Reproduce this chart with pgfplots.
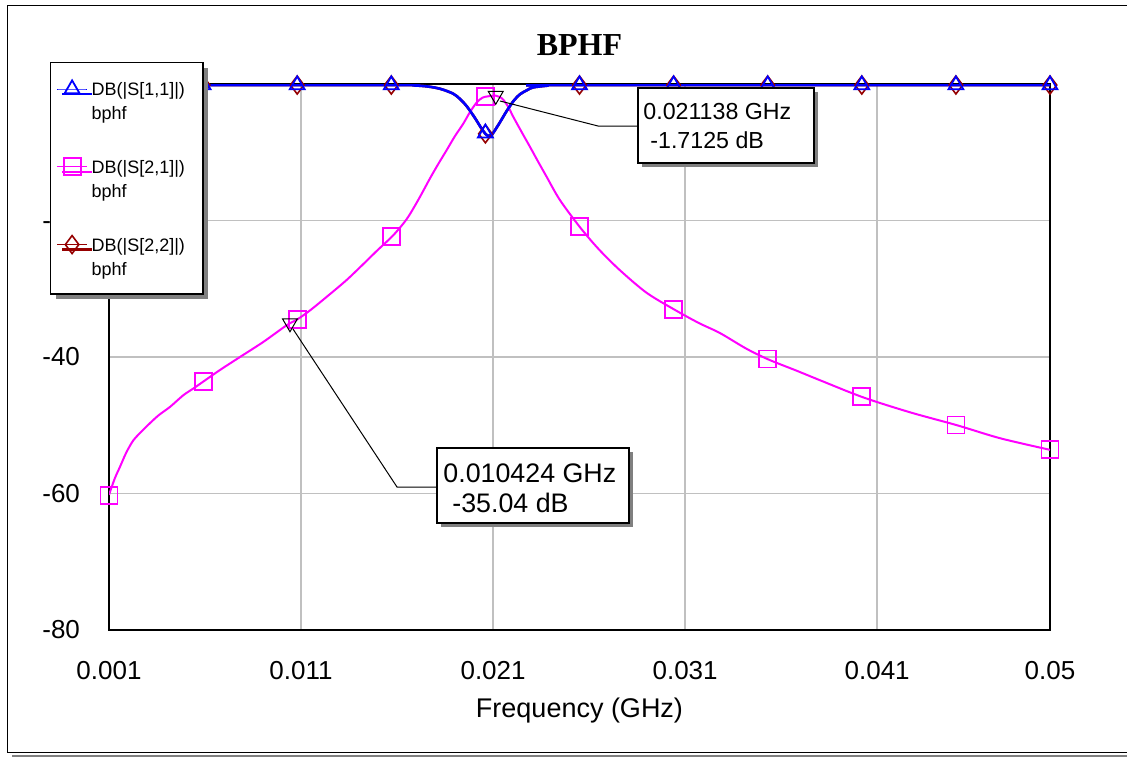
\documentclass[border=0pt]{standalone}
\usepackage{fontspec}
\setmainfont{Liberation Sans}
\newfontfamily\titlefont{Liberation Serif}
\usepackage{pgfplots}
\pgfplotsset{compat=1.18}
\usetikzlibrary{shadows}
\definecolor{sblue}{RGB}{0,0,255}
\definecolor{smag}{RGB}{255,0,255}
\definecolor{sbrown}{RGB}{150,0,0}
\definecolor{gridgray}{RGB}{192,192,192}
\definecolor{shadowgray}{RGB}{128,128,128}
\begin{document}
\begin{tikzpicture}
\useasboundingbox (0,0) rectangle (563.5pt,378.5pt);
% outer frame
\begin{scope}[x=0.5pt,y=-0.5pt,yshift=378.5pt]
  \fill[shadowgray] (12,754.5) rectangle (1127,757);
  \draw[black, line width=0.5pt] (7,6) -- (1127,6);
  \draw[black, line width=0.5pt] (7,6) -- (7,752.5) -- (1127,752.5);
\end{scope}
\begin{axis}[
  at={(54.5pt,63.5pt)}, anchor=south west,
  scale only axis, width=470.5pt, height=273pt,
  xmin=0.001, xmax=0.05, ymin=-80, ymax=0,
  scaled x ticks=false, scaled y ticks=false,
  xtick={0.001,0.011,0.021,0.031,0.041,0.05},
  xticklabels={0.001,0.011,0.021,0.031,0.041,0.05},
  ytick={-80,-60,-40,-20,0},
  yticklabels={-80,-60,-40,-20,0},
  grid=major, major grid style={gridgray, line width=0.75pt},
  major tick length=0pt,
  axis line style={black, line width=1pt},
  tick label style={font=\fontsize{13}{15}\selectfont},
  xticklabel style={yshift=-12pt},
  yticklabel style={xshift=-11pt},
  xlabel={Frequency (GHz)},
  xlabel style={font=\fontsize{13.5}{16}\selectfont, at={(axis description cs:0.5,0)}, anchor=center, yshift=-40.5pt},
  title={BPHF},
  title style={font=\titlefont\bfseries\fontsize{16}{19}\selectfont, at={(axis description cs:0.5,1)}, anchor=center, yshift=13.5pt},
  reverse legend,
  legend style={at={(axis description cs:-0.0627,1.0403)}, anchor=north west,
    draw=black, line width=0.6pt, fill=white,
    drop shadow={shadow xshift=2.5pt, shadow yshift=-2.5pt, fill=shadowgray, opacity=1},
    font=\fontsize{9}{12}\selectfont, inner xsep=3pt, inner ysep=6pt,
    row sep=13pt, cells={anchor=base west}},
  legend image code/.code={\draw[#1, line width=0.5pt, mark indices={2}] plot coordinates {(0pt,15.2pt) (7.5pt,15.2pt) (15pt,15.2pt)};},
]
% S22 (identical to S11, drawn underneath)
\addplot[sbrown, smooth, line width=1.3pt, mark=diamond, mark size=4.5pt, mark options={solid, line width=0.8pt}, mark indices={9999}] coordinates {
(0.00100,-0.15) (0.01600,-0.15) (0.01683,-0.2) (0.01756,-0.35) (0.01824,-0.7)
(0.01891,-1.4) (0.01928,-2.2) (0.01964,-3.3) (0.02006,-5.0) (0.02037,-6.4)
(0.02060,-7.3) (0.02075,-7.6) (0.02090,-7.5) (0.02100,-7.2) (0.02136,-5.6)
(0.02172,-3.9) (0.02209,-2.4) (0.02240,-1.5) (0.02277,-0.9) (0.02308,-0.5)
(0.02381,-0.25) (0.02448,-0.15) (0.05000,-0.15)};
\addlegendentry{\begin{tabular}[b]{@{}l@{\hspace{4pt}}}DB(|S[2,2]|)\\bphf\end{tabular}}
\addplot[forget plot, only marks, sbrown, mark=diamond, mark size=4.5pt, mark options={solid, line width=0.8pt}] coordinates {
(0.001,-0.15) (0.0059,-0.15) (0.0108,-0.15) (0.0157,-0.15) (0.0206,-7.3) (0.0255,-0.15)
(0.0304,-0.15) (0.0353,-0.15) (0.0402,-0.15) (0.0451,-0.15) (0.05,-0.15)};
% S21
\addplot[smag, smooth, line width=1pt, mark=square, mark size=4.25pt, mark options={solid, line width=0.9pt}, mark indices={9999}] coordinates {
(0.00100,-60.2) (0.00130,-57.8) (0.00157,-56.1) (0.00190,-54.0) (0.00227,-52.2)
(0.00270,-50.9) (0.00313,-49.7) (0.00360,-48.5) (0.00418,-47.3) (0.00487,-45.6)
(0.00540,-44.6) (0.00591,-43.6) (0.00678,-41.9) (0.00782,-40.0) (0.00903,-37.8)
(0.01025,-35.35) (0.01080,-34.5) (0.01150,-33.1) (0.01250,-30.8) (0.01338,-28.7)
(0.01420,-26.5) (0.01500,-24.3) (0.01579,-22.2) (0.01650,-19.8) (0.01710,-17.0)
(0.01772,-13.8) (0.01815,-11.7) (0.01858,-9.7) (0.01900,-7.7) (0.01945,-5.8)
(0.01980,-4.1) (0.02015,-2.7) (0.02045,-2.0) (0.02075,-1.8) (0.02114,-1.71)
(0.02135,-1.9) (0.02153,-2.3) (0.02180,-3.4) (0.02205,-4.8) (0.02250,-7.1)
(0.02292,-9.2) (0.02335,-11.4) (0.02379,-13.6) (0.02448,-17.0) (0.02553,-21.0)
(0.02650,-24.2) (0.02761,-27.3) (0.02900,-30.6) (0.03047,-33.1) (0.03170,-35.0)
(0.03282,-36.5) (0.03420,-38.8) (0.03537,-40.4) (0.03680,-42.0) (0.03802,-43.4)
(0.04026,-45.9) (0.04271,-48.1) (0.04516,-50.0) (0.04740,-51.9) (0.05000,-53.6)};
\addlegendentry{\begin{tabular}[b]{@{}l@{\hspace{4pt}}}DB(|S[2,1]|)\\bphf\end{tabular}}
\addplot[forget plot, only marks, smag, mark=square, mark size=4.25pt, mark options={solid, line width=0.9pt}] coordinates {
(0.001,-60.3) (0.0059,-43.6) (0.0108,-34.5) (0.0157,-22.4) (0.0206,-1.85) (0.0255,-20.9)
(0.0304,-33.0) (0.0353,-40.3) (0.0402,-45.8) (0.0451,-49.95) (0.05,-53.6)};
% S11
\addplot[sblue, smooth, line width=1.3pt, mark=triangle, mark size=4.3pt, mark options={solid, line width=0.9pt}, mark indices={9999}] coordinates {
(0.00100,-0.15) (0.01600,-0.15) (0.01683,-0.2) (0.01756,-0.35) (0.01824,-0.7)
(0.01891,-1.4) (0.01928,-2.2) (0.01964,-3.3) (0.02006,-5.0) (0.02037,-6.4)
(0.02060,-7.3) (0.02075,-7.6) (0.02090,-7.5) (0.02100,-7.2) (0.02136,-5.6)
(0.02172,-3.9) (0.02209,-2.4) (0.02240,-1.5) (0.02277,-0.9) (0.02308,-0.5)
(0.02381,-0.25) (0.02448,-0.15) (0.05000,-0.15)};
\addlegendentry{\begin{tabular}[b]{@{}l@{\hspace{4pt}}}DB(|S[1,1]|)\\bphf\end{tabular}}
\addplot[forget plot, only marks, sblue, mark=triangle, mark size=4.3pt, mark options={solid, line width=0.9pt}] coordinates {
(0.001,-0.15) (0.0059,-0.15) (0.0108,-0.15) (0.0157,-0.15) (0.0206,-7.2) (0.0255,-0.15)
(0.0304,-0.15) (0.0353,-0.15) (0.0402,-0.15) (0.0451,-0.15) (0.05,-0.15)};
% marker readouts
\addplot[forget plot, only marks, black, mark=triangle, mark size=4.3pt, mark options={solid, rotate=180, line width=0.5pt}] coordinates {
(0.021138,-1.7125) (0.010424,-35.04)};
\end{axis}
% callouts
\begin{scope}[x=0.5pt,y=-0.5pt,yshift=378.5pt]
  \draw[black, line width=0.5pt] (500,101) -- (598,126) -- (638,126);
  \fill[shadowgray] (642,92) rectangle (818,167);
  \filldraw[fill=white, draw=black, line width=0.6pt] (638,88) rectangle (814,163);
  \node[anchor=west, inner sep=0pt, font=\fontsize{11.6}{14}\selectfont] at (643,112) {0.021138 GHz};
  \node[anchor=west, inner sep=0pt, font=\fontsize{11.6}{14}\selectfont] at (650,140) {-1.7125 dB};
  \draw[black, line width=0.5pt] (293,329) -- (397,487) -- (437,487);
  \fill[shadowgray] (441,452) rectangle (633,527);
  \filldraw[fill=white, draw=black, line width=0.6pt] (437,448) rectangle (629,523);
  \node[anchor=west, inner sep=0pt, font=\fontsize{13.4}{16}\selectfont] at (443,473) {0.010424 GHz};
  \node[anchor=west, inner sep=0pt, font=\fontsize{13.4}{16}\selectfont] at (452,503) {-35.04 dB};
\end{scope}
\end{tikzpicture}
\end{document}
